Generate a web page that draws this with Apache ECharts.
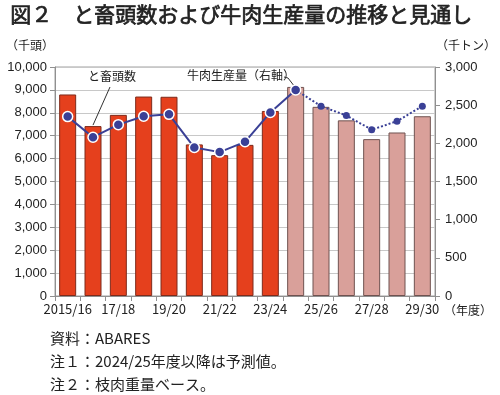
<!DOCTYPE html>
<html><head><meta charset="utf-8">
<script src="https://cdn.jsdelivr.net/npm/echarts@6/dist/echarts.min.js"></script>
<style>html,body{margin:0;padding:0;background:#fff}#c{width:500px;height:395px}</style>
</head><body><div id="c"></div>
<script>
var categories = ['2015/16','16/17','17/18','18/19','19/20','20/21','21/22','22/23','23/24','24/25','25/26','26/27','27/28','28/29','29/30'];
var slaughterActual = [8800,7420,7910,8710,8700,6620,6150,6600,8080,null,null,null,null,null,null];
var slaughterForecast = [null,null,null,null,null,null,null,null,null,9130,8260,7670,6850,7140,7850];
var beefActual = [2350,2080,2245,2355,2380,1945,1885,2020,2405,2700,null,null,null,null,null];
var beefForecast = [null,null,null,null,null,null,null,null,null,2700,2487,2365,2178,2290,2487];
var leftTicks = {min:0, max:10000, interval:1000};
var rightTicks = {min:0, max:3000, interval:500};

var FONT = '"Liberation Sans","Noto Sans CJK JP",sans-serif';
var JFONT = '"Noto Sans CJK JP",sans-serif';
var chart = echarts.init(document.getElementById('c'), null, {renderer:'canvas'});
var fmt = function(v){return Number(v).toLocaleString('en-US');};
var lineColor = '#3a4096';
var option = {
  animation:false,
  backgroundColor:'#fff',
  grid:{left:55,right:65,top:67,bottom:99,show:true,borderColor:'#a0a0a0',borderWidth:1},
  xAxis:{type:'category',data:categories,
    axisLine:{lineStyle:{color:'#909090'}},
    axisTick:{show:true,interval:0,length:5,lineStyle:{color:'#909090'}},
    axisLabel:{interval:1,color:'#222',fontSize:13,fontFamily:JFONT,margin:7}},
  yAxis:[
    {type:'value',min:leftTicks.min,max:leftTicks.max,interval:leftTicks.interval,
     axisLine:{show:true,lineStyle:{color:'#909090'}},
     axisTick:{show:true,length:5,lineStyle:{color:'#909090'}},
     splitLine:{lineStyle:{color:'#c8c8c8'}},
     axisLabel:{formatter:fmt,color:'#222',fontSize:13,fontFamily:FONT,margin:8}},
    {type:'value',min:rightTicks.min,max:rightTicks.max,interval:rightTicks.interval,
     axisLine:{show:true,lineStyle:{color:'#909090'}},
     axisTick:{show:true,length:5,lineStyle:{color:'#909090'}},
     splitLine:{show:false},
     axisLabel:{formatter:fmt,color:'#222',fontSize:13,fontFamily:FONT,margin:10}}
  ],
  series:[
    {type:'bar',data:slaughterActual,stack:'s',barWidth:17,
     itemStyle:{color:'#e5401d',borderColor:'#7d2b1c',borderWidth:1}},
    {type:'bar',data:slaughterForecast,stack:'s',barWidth:17,
     itemStyle:{color:'#d9a09a',borderColor:'#6f5250',borderWidth:1}},
    {type:'line',yAxisIndex:1,data:beefForecast,symbol:'circle',symbolSize:7,
     lineStyle:{color:lineColor,width:2,type:'dotted'},
     itemStyle:{color:lineColor},z:3},
    {type:'line',yAxisIndex:1,data:beefActual,symbol:'circle',symbolSize:10,
     lineStyle:{color:lineColor,width:2},
     itemStyle:{color:lineColor,borderColor:'#fff',borderWidth:1.5},z:4}
  ]
};
chart.setOption(option);

var p2 = chart.convertToPixel({xAxisIndex:0,yAxisIndex:0},[1,slaughterActual[1]]);
var p10 = chart.convertToPixel({xAxisIndex:0,yAxisIndex:1},[9,beefActual[9]]);
chart.setOption({graphic:[
  {type:'text',left:10,top:3,style:{text:'図２　と畜頭数および牛肉生産量の推移と見通し',font:'normal 21px '+JFONT,fill:'#222',stroke:'#222',lineWidth:0.7}},
  {type:'text',left:6,top:39,style:{text:'（千頭）',font:'12px '+JFONT,fill:'#222'}},
  {type:'text',left:436,top:39,style:{text:'（千トン）',font:'12px '+JFONT,fill:'#222'}},
  {type:'text',left:444,top:304,style:{text:'（年度）',font:'12px '+JFONT,fill:'#222'}},
  {type:'text',left:88,top:70,style:{text:'と畜頭数',font:'12px '+JFONT,fill:'#222'}},
  {type:'text',left:187,top:69,style:{text:'牛肉生産量（右軸）',font:'12px '+JFONT,fill:'#222'}},
  {type:'line',shape:{x1:110,y1:87,x2:p2[0],y2:p2[1]-1},style:{stroke:'#333',lineWidth:1}},
  {type:'polyline',shape:{points:[[284,77],[288,78],[p10[0],p10[1]-2]]},style:{stroke:'#333',lineWidth:1,fill:null}},
  {type:'text',left:50,top:331,style:{text:'資料：ABARES',font:'15px '+JFONT,fill:'#222'}},
  {type:'text',left:50,top:354,style:{text:'注１：2024/25年度以降は予測値。',font:'15px '+JFONT,fill:'#222'}},
  {type:'text',left:50,top:377,style:{text:'注２：枝肉重量ベース。',font:'15px '+JFONT,fill:'#222'}}
]});
</script></body></html>
